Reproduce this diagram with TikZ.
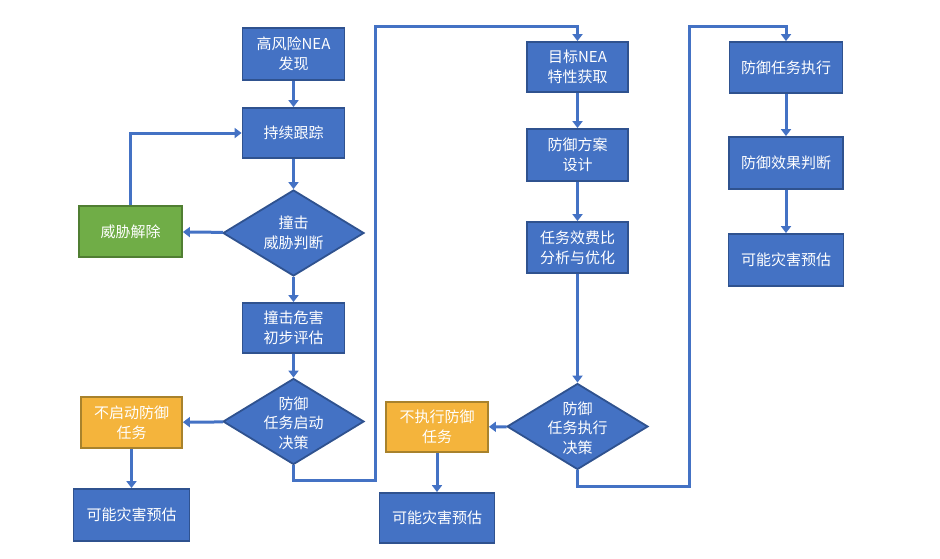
\documentclass[tikz,border=0pt]{standalone}
\usepackage{fontspec}
\setmainfont{Liberation Serif}
\newfontfamily\cjk{Noto Sans CJK SC}
\usetikzlibrary{shapes.geometric,arrows.meta}
\definecolor{bfill}{HTML}{4472C4}
\definecolor{bdraw}{HTML}{2F528F}
\definecolor{gfill}{HTML}{70AD47}
\definecolor{gdraw}{HTML}{507E32}
\definecolor{ofill}{HTML}{F4B43C}
\definecolor{odraw}{HTML}{A8822C}
\definecolor{line}{HTML}{4472C4}
\tikzset{
  x=1pt,y=-1pt,
  base/.style={draw, line width=1.8pt, inner sep=0pt, align=center, text=white,
    font=\cjk\fontsize{15}{20}\selectfont},
  bbox/.style={base, fill=bfill, draw=bdraw},
  gbox/.style={base, fill=gfill, draw=gdraw},
  obox/.style={base, fill=ofill, draw=odraw},
  dia/.style={diamond, draw=bdraw, fill=bfill, line width=1.8pt, inner sep=0pt,
    minimum width=141pt, minimum height=86pt},
  dtxt/.style={align=center, text=white, inner sep=0pt, font=\cjk\fontsize{15}{19.5}\selectfont},
  conn/.style={draw=line, line width=3pt, -{Triangle[length=7pt,width=10pt]}},
  plain/.style={draw=line, line width=3pt}
}
\begin{document}
\begin{tikzpicture}
\useasboundingbox (0,0) rectangle (940,558);
% column 1
\node[bbox, minimum width=102pt, minimum height=52pt] (a1) at (293.5,54) {高风险NEA\\发现};
\node[bbox, minimum width=102pt, minimum height=50pt] (a2) at (293.5,133) {持续跟踪};
\node[dia] (d1) at (293.5,233) {};
\node[dtxt] (d1t) at (293.5,233) {撞击\\威胁判断};
\node[gbox, minimum width=103pt, minimum height=51pt] (g) at (130.5,231.5) {威胁解除};
\node[bbox, minimum width=102pt, minimum height=50pt] (a3) at (293.5,328) {撞击危害\\初步评估};
\node[dia] (d2) at (293.5,421.5) {};
\node[dtxt] (d2t) at (293.5,423) {防御\\任务启动\\决策};
\node[obox, minimum width=101pt, minimum height=51pt] (o1) at (131.5,422.5) {不启动防御\\任务};
\node[bbox, minimum width=116pt, minimum height=52pt] (r1) at (131.5,515) {可能灾害预估};
% column 2
\node[bbox, minimum width=101pt, minimum height=50pt] (b1) at (577.5,67) {目标NEA\\特性获取};
\node[bbox, minimum width=101pt, minimum height=52pt] (b2) at (577.5,155) {防御方案\\设计};
\node[bbox, minimum width=101pt, minimum height=51pt] (b3) at (577.5,247.5) {任务效费比\\分析与优化};
\node[dia] (d3) at (577.5,426.5) {};
\node[dtxt] (d3t) at (577.5,428) {防御\\任务执行\\决策};
\node[obox, minimum width=102pt, minimum height=50pt] (o2) at (437,427) {不执行防御\\任务};
\node[bbox, minimum width=115pt, minimum height=50pt] (r2) at (437,518) {可能灾害预估};
% column 3
\node[bbox, minimum width=113pt, minimum height=51pt] (c1) at (786,67.5) {防御任务执行};
\node[bbox, minimum width=114pt, minimum height=52pt] (c2) at (786,163) {防御效果判断};
\node[bbox, minimum width=115pt, minimum height=52pt] (c3) at (786,260) {可能灾害预估};
% route coordinates
\coordinate (p1) at (293.5,480);
\coordinate (p2) at (375,480);
\coordinate (p3) at (375,26);
\coordinate (p4) at (577.5,26);
\coordinate (q1) at (577.5,486);
\coordinate (q2) at (689,486);
\coordinate (q3) at (689,26);
\coordinate (q4) at (786,26);
% connectors
\draw[conn] (a1) -- (a2);
\draw[conn] (a2) -- (d1);
\draw[conn] (d1) -- (g);
\draw[conn] (g.north) |- (a2.west);
\draw[conn] (d1) -- (a3);
\draw[conn] (a3) -- (d2);
\draw[conn] (d2) -- (o1);
\draw[conn] (o1) -- (r1);
\draw[conn] (d2.south) -- (p1) -- (p2) -- (p3) -- (p4) -- (b1.north);
\draw[conn] (b1) -- (b2);
\draw[conn] (b2) -- (b3);
\draw[conn] (b3.south) -- (d3.north);
\draw[conn] (d3) -- (o2);
\draw[conn] (o2) -- (r2);
\draw[conn] (d3.south) -- (q1) -- (q2) -- (q3) -- (q4) -- (c1.north);
\draw[conn] (c1) -- (c2);
\draw[conn] (c2) -- (c3);
\end{tikzpicture}
\end{document}
